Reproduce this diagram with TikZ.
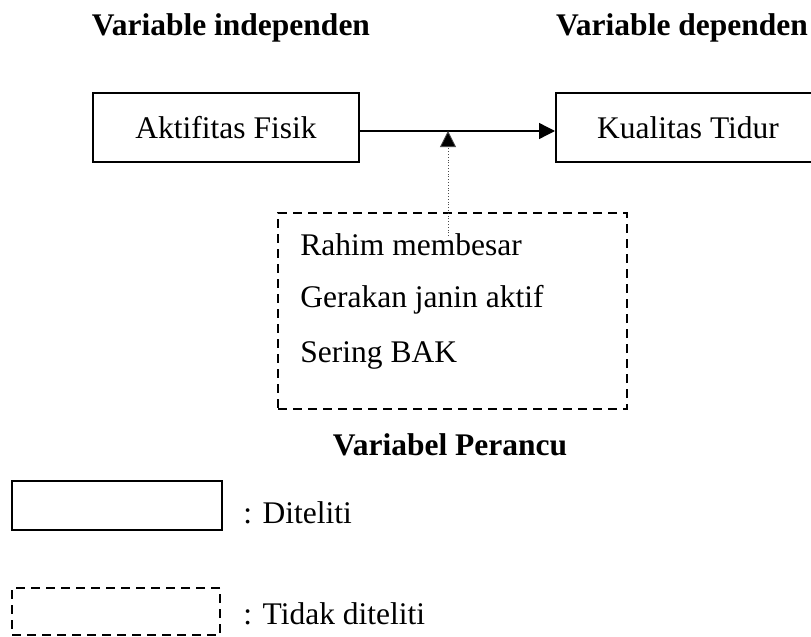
\documentclass[tikz,border=0pt]{standalone}
\usepackage{fontspec}
\setmainfont{Liberation Serif}
\usepackage{tikz}
\usetikzlibrary{arrows.meta,
                calc,
                positioning}

\begin{document}
\begin{tikzpicture}[
			x=0.5pt, y=-0.5pt,
			every node/.style = {font=\fontsize{15.75}{19}\selectfont, inner sep=0pt},
			diteliti/.style = {draw, line width=1pt, rectangle},
			tidak/.style = {draw, line width=1pt, rectangle, dash pattern=on 4.5pt off 3pt},
			judul/.style = {font=\fontsize{15.75}{19}\selectfont\bfseries},
			panah/.style = {-{Triangle[length=8pt,width=8pt,fill=black]}},
			]
			\useasboundingbox (0,0) rectangle (811,637);
			% titles
			\node[judul] (ind) at (231,28) {Variable independen};
			\node[judul] (dep) at (682,28) {Variable dependen};
			% boxes
			\node[diteliti, minimum width=133pt, minimum height=34.5pt] (akt) at (226,127.5) {Aktifitas Fisik};
			\node[diteliti, minimum width=132pt, minimum height=34.5pt] (kual) at (688,127.5) {Kualitas Tidur};
			\node[tidak, minimum width=174.5pt, minimum height=98pt] (perancu) at (452.5,311) {};
			\node[anchor=west] (r1) at (300,245) {Rahim membesar};
			\node[anchor=west] (r2) at (300,300) {Gerakan janin aktif};
			\node[anchor=west] (r3) at (300,355) {Sering BAK};
			\node[judul] (var) at (450,445) {Variabel Perancu};
			% legend
			\node[diteliti, minimum width=105pt, minimum height=24.5pt] (lg1) at (117,505.5) {};
			\node[tidak, minimum width=104pt, minimum height=23.5pt] (lg2) at (116,611.5) {};
			\node[anchor=west] (t1) at (243,513) {: Diteliti};
			\node[anchor=west] (t2) at (243,614) {: Tidak diteliti};
			% edges
			\coordinate (mid) at (448,131);
			\coordinate (ujung) at (448,236);
			\draw[line width=0.7pt, panah] (akt.east |- mid) -- (kual.west |- mid);
			\draw[densely dotted, line width=0.4pt, black!70, panah] (ujung) -- (mid);
		\end{tikzpicture}
\end{document}
